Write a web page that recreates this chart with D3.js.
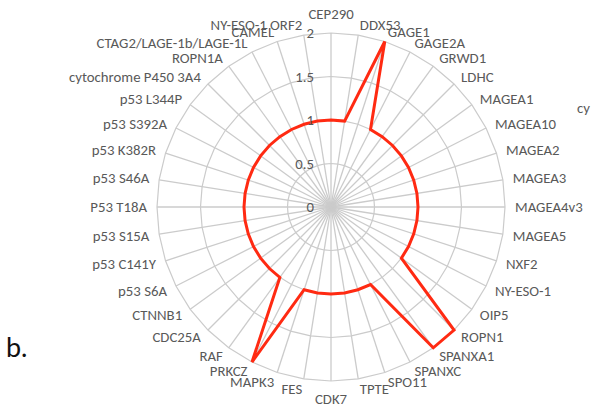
<!DOCTYPE html>
<html>
<head>
<meta charset="utf-8">
<script src="https://cdn.jsdelivr.net/npm/d3@7"></script>
<style>
html,body{margin:0;padding:0;background:#fff;}
svg{display:block;}
</style>
</head>
<body>
<svg id="chart" width="592" height="407"></svg>
<script>
const categories = ["CEP290","DDX53","GAGE1","GAGE2A","GRWD1","LDHC","MAGEA1","MAGEA10","MAGEA2","MAGEA3","MAGEA4v3","MAGEA5","NXF2","NY-ESO-1","OIP5","ROPN1","SPANXA1","SPANXC","SPO11","TPTE","CDK7","FES","MAPK3","PRKCZ","RAF","CDC25A","CTNNB1","p53 S6A","p53 C141Y","p53 S15A","P53 T18A","p53 S46A","p53 K382R","p53 S392A","p53 L344P","cytochrome P450 3A4","ROPN1A","CTAG2/LAGE-1b/LAGE-1L","CAMEL","NY-ESO-1 ORF2"];
const values = [1,1,2,1,1,1,1,1,1,1,1,1,1,1,1,2,2,1,1,1,1,1,1,2,1,1,1,1,1,1,1,1,1,1,1,1,1,1,1,1];
const tickValues = [0,0.5,1,1.5,2];
const tickLabels = ["0","0.5","1","1.5","2"];

const svg = d3.select("#chart");
const cx = 331, cy = 207, R = 174;
const n = categories.length;
const r = d3.scaleLinear().domain([0, 2]).range([0, R]);
const ang = d3.scaleLinear().domain([0, n]).range([0, 2*Math.PI]);
const g = svg.append("g").attr("transform", `translate(${cx},${cy})`);
const gridColor = "#cbcbcb";
const textColor = "#595959";
const font = "Carlito, Lato, 'Open Sans', sans-serif";
const fs = "14.8px";

// rings
tickValues.filter(v => v > 0).forEach(v => {
  const ring = d3.lineRadial().angle((d,i) => ang(i)).radius(() => r(v)).curve(d3.curveLinearClosed);
  g.append("path").attr("d", ring(categories)).attr("fill","none").attr("stroke", gridColor).attr("stroke-width", 1.2);
});
// spokes
categories.forEach((c,i) => {
  const a = ang(i);
  g.append("line").attr("x1",0).attr("y1",0)
    .attr("x2", r(2)*Math.sin(a)).attr("y2", -r(2)*Math.cos(a))
    .attr("stroke", gridColor).attr("stroke-width", 1.3);
});
// series
const line = d3.lineRadial().angle((d,i) => ang(i)).radius(d => r(d)).curve(d3.curveLinearClosed);
g.append("path").attr("d", line(values)).attr("fill","none")
  .attr("stroke","#ff2a12").attr("stroke-width",3).attr("stroke-linejoin","miter");

// tick labels
tickValues.forEach((v,i) => {
  g.append("text").attr("x",-17).attr("y",-r(v)).attr("dy","0.35em")
    .attr("text-anchor","end").attr("fill",textColor)
    .style("font-family",font).style("font-size",fs).text(tickLabels[i]);
});

// category labels
categories.forEach((c,i) => {
  const a = ang(i);
  const s = Math.sin(a), co = Math.cos(a);
  const px = (R+10)*s, py = -(R+10)*co;
  let anchor = "middle", yy = py;
  if (Math.abs(s) < 0.01) {
    yy = py + (co > 0 ? -9 : 8);
  } else {
    anchor = s > 0 ? "start" : "end";
  }
  g.append("text").attr("x",px).attr("y",yy).attr("dy","0.35em")
    .attr("text-anchor",anchor).attr("fill",textColor)
    .style("font-family",font).style("font-size",fs).text(c);
});

// panel letter and cut-off neighbour text
svg.append("text").attr("x",6).attr("y",357).attr("fill","#111")
  .style("font-family","Lato, sans-serif").style("font-size","27px").text("b.");
svg.append("text").attr("x",577).attr("y",113).attr("fill",textColor)
  .style("font-family",font).style("font-size",fs).text("cy");
</script>
</body>
</html>
